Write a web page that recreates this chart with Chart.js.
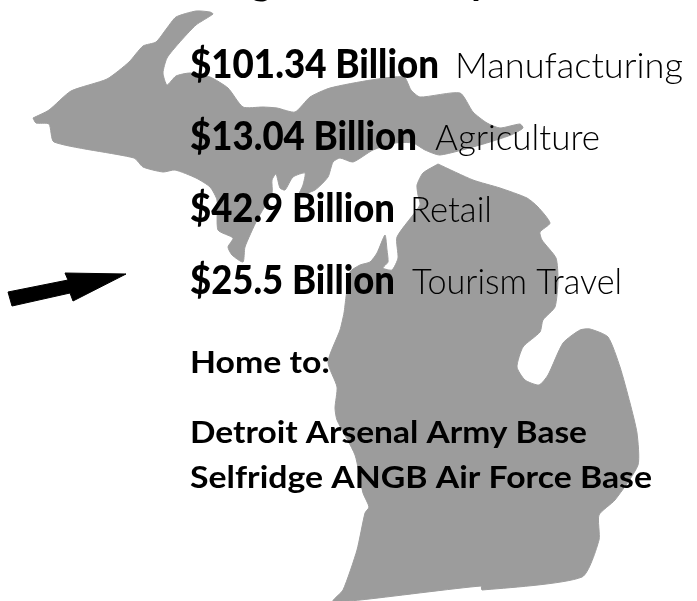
<!DOCTYPE html>
<html><head><meta charset="utf-8">
<style>html,body{margin:0;padding:0;background:#fff}canvas{display:block}</style>
<script src="https://cdn.jsdelivr.net/npm/chart.js@4"></script>
</head><body><canvas id="c" width="697" height="601"></canvas>
<script>
const titleText = "Michigan Economy";
const amounts = ["$101.34 Billion", "$13.04 Billion", "$42.9 Billion", "$25.5 Billion"];
const sectors = ["Manufacturing", "Agriculture", "Retail", "Tourism Travel"];
const homeHeading = "Home to:";
const bases = ["Detroit Arsenal Army Base", "Selfridge ANGB Air Force Base"];

const upperPeninsula = [[33,118],[49,110],[71,91],[107,79],[129,62],[143,46],[156,42],[167,28],[176,17],[196,11],[210,12],[213,14],[196,25],[179,43],[167,58],[163,73],[167,85],[176,76],[190,73],[210,77],[228,88],[243,107],[263,107],[277,108],[295,112],[310,97],[330,88],[371,80],[404,77],[411,90],[420,97],[460,93],[473,112],[487,123],[500,128],[520,124],[523,128],[511,135],[480,145],[440,155],[425,150],[413,143],[395,143],[373,150],[353,162],[340,158],[333,162],[328,177],[315,190],[299,195],[303,185],[305,173],[293,177],[285,190],[280,188],[276,174],[272,180],[272,193],[257,220],[245,247],[243,262],[232,255],[228,247],[233,238],[218,230],[217,200],[210,187],[196,178],[175,170],[163,172],[143,167],[134,158],[54,142],[49,124],[36,123],[33,118]];
const lowerPeninsula = [[438,164],[473,180],[500,188],[527,198],[538,207],[550,223],[540,232],[542,240],[556,258],[558,280],[555,307],[543,320],[540,332],[523,347],[517,367],[525,380],[539,385],[548,375],[563,343],[580,330],[590,329],[608,337],[620,367],[630,403],[637,433],[638,465],[615,500],[599,515],[599,540],[582,577],[482,590],[481,586],[360,600],[333,601],[343,590],[357,550],[365,513],[369,507],[363,493],[355,455],[337,420],[335,408],[337,387],[328,362],[340,330],[344,313],[346,297],[350,272],[360,265],[370,262],[377,253],[385,235],[387,250],[388,262],[383,268],[392,270],[398,258],[397,237],[420,205],[418,195],[417,185],[423,173],[438,164]];
const arrow = [[8,292],[12,306],[70,293],[73,301],[126,274],[65,273],[68,280],[8,292]];

const toPts = a => a.map(p => ({x:p[0], y:p[1]}));

const textItems = [
  {t:titleText,  x:150, y:-6, w:340, size:40, weight:700},
  {t:amounts[0], x:190, y:78, w:249, size:39, weight:900},
  {t:sectors[0], x:455, y:78, w:228, size:36, weight:300},
  {t:amounts[1], x:190, y:150, w:227, size:39, weight:900},
  {t:sectors[1], x:435, y:150, w:165, size:36, weight:300},
  {t:amounts[2], x:190, y:222, w:205, size:39, weight:900},
  {t:sectors[2], x:410, y:222, w:82, size:36, weight:300},
  {t:amounts[3], x:190, y:294, w:205, size:39, weight:900},
  {t:sectors[3], x:412, y:294, w:210, size:36, weight:300},
  {t:homeHeading,x:190, y:373, w:140, size:31, weight:700},
  {t:bases[0],   x:190, y:443, w:397, size:31, weight:700},
  {t:bases[1],   x:190, y:488, w:462, size:31, weight:700}
];

const textPlugin = {
  id:'textPlugin',
  afterDatasetsDraw(chart){
    const {ctx, scales:{x,y}} = chart;
    ctx.save();
    ctx.fillStyle = '#000';
    ctx.textBaseline = 'alphabetic';
    ctx.textAlign = 'left';
    for (const it of textItems){
      ctx.font = `${it.weight} ${it.size}px Lato`;
      const m = ctx.measureText(it.t).width;
      ctx.save();
      ctx.translate(x.getPixelForValue(it.x), y.getPixelForValue(it.y));
      ctx.scale(it.w/m, 1);
      ctx.fillText(it.t, 0, 0);
      ctx.restore();
    }
    ctx.restore();
  }
};

const shape = (label, pts, color, tension) => ({
  label, data:toPts(pts), showLine:true, fill:'shape', tension,
  backgroundColor:color, borderColor:color, borderWidth:1, pointRadius:0, pointHoverRadius:0, clip:false
});

new Chart(document.getElementById('c'), {
  type:'scatter',
  data:{datasets:[
    shape('Upper Peninsula', upperPeninsula, '#9c9c9c', 0.2),
    shape('Lower Peninsula', lowerPeninsula, '#9c9c9c', 0.2),
    shape('Arrow', arrow, '#000000', 0)
  ]},
  options:{
    responsive:false, animation:false,
    layout:{padding:0},
    elements:{line:{capBezierPoints:false}},
    plugins:{legend:{display:false}, tooltip:{enabled:false}, title:{display:false}},
    scales:{
      x:{type:'linear', display:false, min:0, max:697},
      y:{type:'linear', display:false, min:0, max:601, reverse:true}
    }
  },
  plugins:[textPlugin]
});
</script></body></html>
